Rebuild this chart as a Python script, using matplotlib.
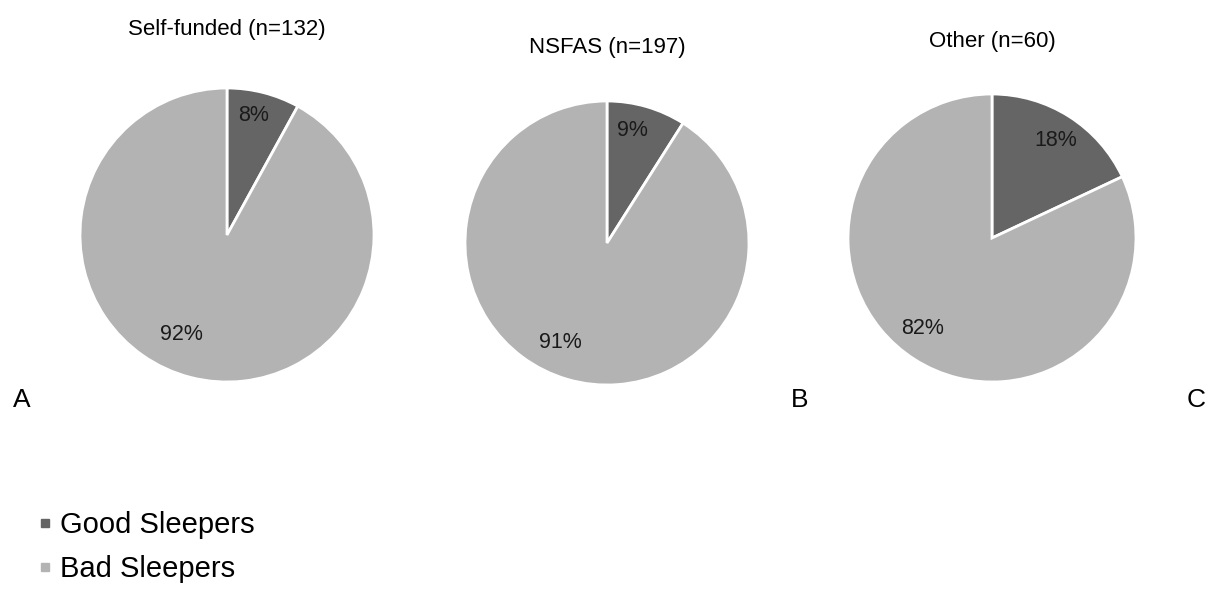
import matplotlib.pyplot as plt
from matplotlib.lines import Line2D

plt.rcParams['font.family'] = ['Liberation Sans', 'DejaVu Sans']

groups = ['Self-funded (n=132)', 'NSFAS (n=197)', 'Other (n=60)']
panel_letters = ['A', 'B', 'C']
good = [8, 9, 18]
bad = [92, 91, 82]
categories = ['Good Sleepers', 'Bad Sleepers']

colors = ['#656565', '#b3b3b3']
W, H = 1215, 589

fig = plt.figure(figsize=(W / 100, H / 100), dpi=100)

# pie centre (px), radius (px), title y (px), label offsets in radius units
layout = [
    dict(c=(227, 235), r=147, ty=30, pos=[(0.18, 0.81), (-0.31, -0.68)]),
    dict(c=(607, 243), r=142, ty=47, pos=[(0.18, 0.79), (-0.33, -0.70)]),
    dict(c=(992, 238), r=144, ty=42, pos=[(0.44, 0.68), (-0.48, -0.63)]),
]

for i, g in enumerate(groups):
    L = layout[i]
    cx, cy = L['c']
    r = L['r']
    ax = fig.add_axes([(cx - r) / W, (H - cy - r) / H, 2 * r / W, 2 * r / H])
    vals = [good[i], bad[i]]
    ax.pie(vals, colors=colors, startangle=90, counterclock=False,
           wedgeprops=dict(edgecolor='white', linewidth=2))
    ax.set_xlim(-1, 1)
    ax.set_ylim(-1, 1)
    for v, (x, y) in zip(vals, L['pos']):
        ax.text(x, y, f'{v}%', ha='center', va='center', fontsize=15.5, color='#1a1a1a')
    fig.text(cx / W, 1 - L['ty'] / H, g, ha='center', va='center', fontsize=16)

letter_x = [22, 800, 1196]
for lx, letter in zip(letter_x, panel_letters):
    fig.text(lx / W, 1 - 400 / H, letter, ha='center', va='center', fontsize=19)

handles = [Line2D([], [], marker='s', linestyle='', markersize=6,
                  markerfacecolor=c, markeredgecolor=c) for c in colors]
fig.legend(handles, categories, loc='center left', bbox_to_anchor=(26 / W, 1 - 547 / H),
           frameon=False, fontsize=21, handlelength=0.5, handletextpad=0.25,
           labelspacing=0.55, borderaxespad=0)

fig.savefig('out.png', dpi=100)
